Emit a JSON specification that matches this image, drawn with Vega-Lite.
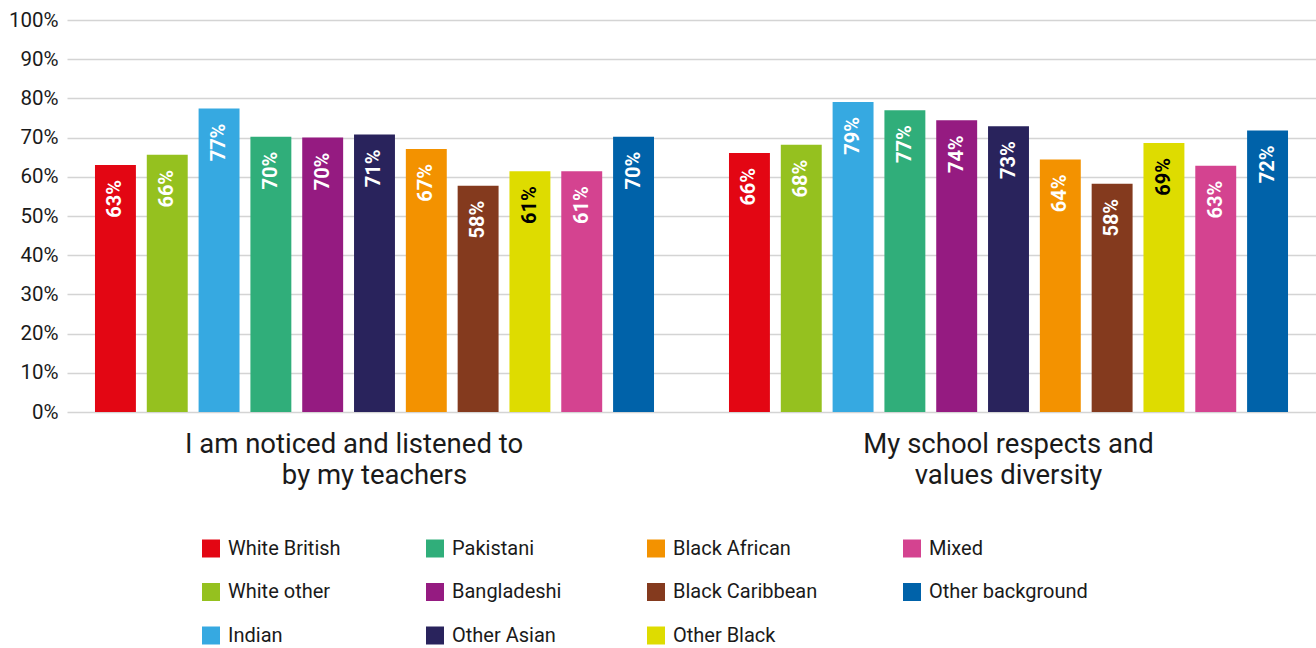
{
  "$schema": "https://vega.github.io/schema/vega-lite/v6.json",
  "width": 1249,
  "height": 392,
  "autosize": {"type": "none"},
  "padding": {"left": 67, "top": 20, "right": 0, "bottom": 236},
  "background": "white",
  "config": {"view": {"stroke": null}, "font": "Roboto"},
  "data": {
    "values": [
      {"question": "I am noticed and listened to by my teachers", "group": "White British", "value": 0.630},
      {"question": "I am noticed and listened to by my teachers", "group": "White other", "value": 0.656},
      {"question": "I am noticed and listened to by my teachers", "group": "Indian", "value": 0.774},
      {"question": "I am noticed and listened to by my teachers", "group": "Pakistani", "value": 0.702},
      {"question": "I am noticed and listened to by my teachers", "group": "Bangladeshi", "value": 0.700},
      {"question": "I am noticed and listened to by my teachers", "group": "Other Asian", "value": 0.708},
      {"question": "I am noticed and listened to by my teachers", "group": "Black African", "value": 0.671},
      {"question": "I am noticed and listened to by my teachers", "group": "Black Caribbean", "value": 0.577},
      {"question": "I am noticed and listened to by my teachers", "group": "Other Black", "value": 0.614},
      {"question": "I am noticed and listened to by my teachers", "group": "Mixed", "value": 0.614},
      {"question": "I am noticed and listened to by my teachers", "group": "Other background", "value": 0.702},
      {"question": "My school respects and values diversity", "group": "White British", "value": 0.661},
      {"question": "My school respects and values diversity", "group": "White other", "value": 0.682},
      {"question": "My school respects and values diversity", "group": "Indian", "value": 0.791},
      {"question": "My school respects and values diversity", "group": "Pakistani", "value": 0.770},
      {"question": "My school respects and values diversity", "group": "Bangladeshi", "value": 0.744},
      {"question": "My school respects and values diversity", "group": "Other Asian", "value": 0.729},
      {"question": "My school respects and values diversity", "group": "Black African", "value": 0.644},
      {"question": "My school respects and values diversity", "group": "Black Caribbean", "value": 0.582},
      {"question": "My school respects and values diversity", "group": "Other Black", "value": 0.686},
      {"question": "My school respects and values diversity", "group": "Mixed", "value": 0.628},
      {"question": "My school respects and values diversity", "group": "Other background", "value": 0.718}
    ]
  },
  "encoding": {
    "x": {
      "field": "question",
      "type": "nominal",
      "sort": ["I am noticed and listened to by my teachers", "My school respects and values diversity"],
      "scale": {"paddingInner": 0.03, "paddingOuter": 0},
      "axis": {
        "title": null,
        "labelAngle": 0,
        "domain": false,
        "ticks": false,
        "labelFontSize": 27.5,
        "labelColor": "#1a1a1a",
        "labelPadding": 18,
        "labelLineHeight": 31.5,
        "labelLimit": 0,
        "labelExpr": "datum.value == 'I am noticed and listened to by my teachers' ? ['I am noticed and listened to\u00a0\u00a0\u00a0\u00a0\u00a0\u00a0\u200b', 'by my teachers'] : ['My school respects and', 'values diversity']"
      }
    },
    "xOffset": {
      "field": "group",
      "type": "nominal",
      "sort": ["White British", "White other", "Indian", "Pakistani", "Bangladeshi", "Other Asian", "Black African", "Black Caribbean", "Other Black", "Mixed", "Other background"],
      "scale": {"paddingInner": 0.21, "paddingOuter": 0.54}
    },
    "y": {
      "field": "value",
      "type": "quantitative",
      "scale": {"domain": [0, 1]},
      "axis": {
        "title": null,
        "format": ".0%",
        "values": [0, 0.1, 0.2, 0.3, 0.4, 0.5, 0.6, 0.7, 0.8, 0.9, 1],
        "grid": true,
        "gridColor": "#d4d4d4",
        "gridWidth": 1.5,
        "domain": false,
        "ticks": false,
        "labelFontSize": 20.5,
        "labelPadding": 9,
        "labelColor": "#1a1a1a"
      }
    }
  },
  "layer": [
    {
      "mark": {"type": "bar"},
      "encoding": {
        "color": {
          "field": "group",
          "type": "nominal",
          "scale": {
            "domain": ["White British", "White other", "Indian", "Pakistani", "Bangladeshi", "Other Asian", "Black African", "Black Caribbean", "Other Black", "Mixed", "Other background"],
            "range": ["#E30613", "#95C11F", "#36A9E1", "#30AE7A", "#951B81", "#29235C", "#F39200", "#843A1E", "#DEDC00", "#D44390", "#0062A9"]
          },
          "legend": {
            "orient": "none",
            "legendX": 134,
            "legendY": 518.5,
            "columns": 4,
            "title": null,
            "padding": 0,
            "symbolType": "square",
            "symbolSize": 324,
            "symbolStrokeWidth": 0,
            "symbolOpacity": 1,
            "labelFontSize": 20,
            "labelColor": "#1a1a1a",
            "labelOffset": 7,
            "labelLimit": 0,
            "rowPadding": 23.5,
            "columnPadding": 84
          }
        }
      }
    },
    {
      "mark": {"type": "text", "angle": -90, "align": "right", "baseline": "middle", "dx": -15, "fontWeight": "bold", "fontSize": 20},
      "encoding": {
        "text": {"field": "value", "type": "quantitative", "format": ".0%"},
        "color": {"condition": {"test": "datum.group === 'Other Black'", "value": "#000000"}, "value": "#ffffff"}
      }
    }
  ]
}
